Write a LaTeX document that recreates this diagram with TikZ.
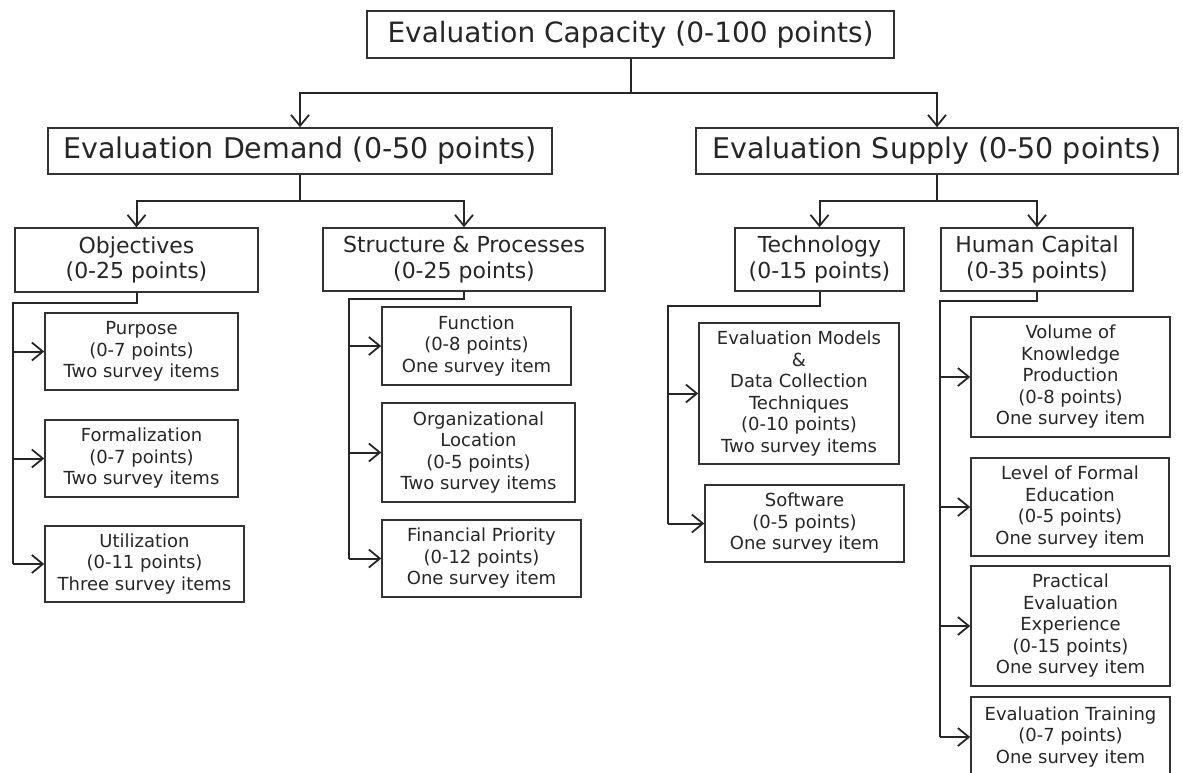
\documentclass[tikz,border=0pt]{standalone}
\usepackage{fontspec}
\setmainfont{DejaVu Sans}
\usetikzlibrary{arrows.meta}
\tikzset{
  box/.style={draw=black!80, line width=1.5pt, inner sep=0pt, align=center, text=black!85},
  lvlA/.style={box, font=\fontsize{28}{32}\selectfont},
  lvlB/.style={box, font=\fontsize{28.5}{33}\selectfont},
  lvlC/.style={box, font=\fontsize{22}{25.7}\selectfont},
  leaf/.style={box, font=\fontsize{18}{21.5}\selectfont},
  conn/.style={draw=black!85, line width=2pt},
  arr/.style={-{Straight Barb[length=11pt,width=18pt,line width=1.8pt]}},
}
\begin{document}
\begin{tikzpicture}[x=1pt,y=-1pt]
\useasboundingbox (0,0) rectangle (1183,772);
\clip (0,0) rectangle (1183,772);

% top levels
\node[lvlA, minimum width=527, minimum height=47] (cap) at (630.5,34.5) {Evaluation Capacity (0-100 points)};
\node[lvlB, minimum width=504, minimum height=46] (dem) at (300,151) {Evaluation Demand (0-50 points)};
\node[lvlB, minimum width=482, minimum height=46] (sup) at (937,151) {Evaluation Supply (0-50 points)};

% dimensions
\node[lvlC, minimum width=243, minimum height=64] (obj) at (136.5,260) {Objectives\\(0-25 points)};
\node[lvlC, minimum width=282, minimum height=63] (str) at (464,259.5) {Structure \& Processes\\(0-25 points)};
\node[lvlC, minimum width=169, minimum height=63] (tech) at (819.5,259.5) {Technology\\(0-15 points)};
\node[lvlC, minimum width=192, minimum height=63] (hc) at (1037,259.5) {Human Capital\\(0-35 points)};

% indicators: objectives
\node[leaf, minimum width=193, minimum height=77] (purp) at (141.5,351.5) {Purpose\\(0-7 points)\\Two survey items};
\node[leaf, minimum width=193, minimum height=77] (form) at (141.5,458.5) {Formalization\\(0-7 points)\\Two survey items};
\node[leaf, minimum width=199, minimum height=76] (util) at (144.5,564) {Utilization\\(0-11 points)\\Three survey items};

% indicators: structure & processes
\node[leaf, minimum width=189, minimum height=78] (func) at (476.5,346) {Function\\(0-8 points)\\One survey item};
\node[leaf, minimum width=193, minimum height=99] (org) at (478.5,452.5) {Organizational\\Location\\(0-5 points)\\Two survey items};
\node[leaf, minimum width=199, minimum height=77] (fin) at (481.5,558.5) {Financial Priority\\(0-12 points)\\One survey item};

% indicators: technology
\node[leaf, minimum width=200, minimum height=141] (mod) at (799,393.5) {Evaluation Models\\\&\\Data Collection\\Techniques\\(0-10 points)\\Two survey items};
\node[leaf, minimum width=199, minimum height=77] (soft) at (804.5,523.5) {Software\\(0-5 points)\\One survey item};

% indicators: human capital
\node[leaf, minimum width=199, minimum height=120] (vol) at (1070.5,377) {Volume of\\Knowledge\\Production\\(0-8 points)\\One survey item};
\node[leaf, minimum width=198, minimum height=98] (lev) at (1070,507) {Level of Formal\\Education\\(0-5 points)\\One survey item};
\node[leaf, minimum width=199, minimum height=120] (prac) at (1070.5,626) {Practical\\Evaluation\\Experience\\(0-15 points)\\One survey item};
\node[leaf, minimum width=199, minimum height=80] (trn) at (1070.5,737) {Evaluation Training\\(0-7 points)\\One survey item};

% branching rails
\coordinate (r0) at (0,93);
\coordinate (r1) at (0,201);
\draw[conn] (cap.south) -- (cap.south |- r0);
\draw[conn,arr] (cap.south |- r0) -| (dem.north);
\draw[conn,arr] (cap.south |- r0) -| (sup.north);
\draw[conn] (dem.south) -- (dem.south |- r1);
\draw[conn,arr] (dem.south |- r1) -| (obj.north);
\draw[conn,arr] (dem.south |- r1) -| (str.north);
\draw[conn] (sup.south) -- (sup.south |- r1);
\draw[conn,arr] (sup.south |- r1) -| (tech.north);
\draw[conn,arr] (sup.south |- r1) -| (hc.north);

% spines to indicators
\coordinate (sObj) at (13,303);
\coordinate (sStr) at (349,299);
\coordinate (sTec) at (668,306);
\coordinate (sHc) at (940,301);

\draw[conn] (obj.south) |- (sObj) -- (sObj |- util.west);
\foreach \n in {purp,form,util} \draw[conn,arr] (sObj |- \n.west) -- (\n.west);
\draw[conn] (str.south) |- (sStr) -- (sStr |- fin.west);
\foreach \n in {func,org,fin} \draw[conn,arr] (sStr |- \n.west) -- (\n.west);
\draw[conn] (tech.south) |- (sTec) -- (sTec |- soft.west);
\foreach \n in {mod,soft} \draw[conn,arr] (sTec |- \n.west) -- (\n.west);
\draw[conn] (hc.south) |- (sHc) -- (sHc |- trn.west);
\foreach \n in {vol,lev,prac,trn} \draw[conn,arr] (sHc |- \n.west) -- (\n.west);
\end{tikzpicture}
\end{document}
